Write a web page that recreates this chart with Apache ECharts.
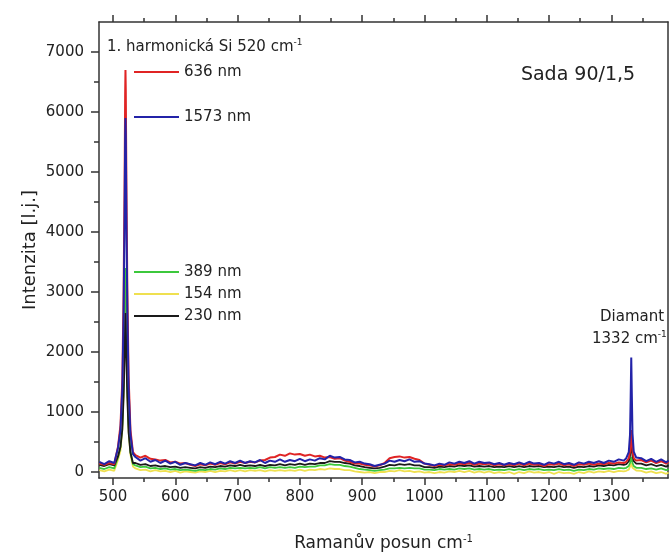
<!DOCTYPE html>
<html><head><meta charset="utf-8">
<script src="https://cdn.jsdelivr.net/npm/echarts@6/dist/echarts.min.js"></script>
<style>html,body{margin:0;padding:0;background:#fff}#c{width:669px;height:557px}</style>
</head><body><div id="c"></div>
<script>
// Raman shift (cm-1) sample positions
const xs = [478,486,494,502,
 508,512,515,517,518.5,519.5,520,520.5,521.5,523,525,528,532,
 536,544,552,560,568,576,584,592,600,608,616,624,632,640,648,656,664,672,680,688,696,
 704,712,720,728,736,744,752,760,768,776,784,792,800,808,816,824,832,840,848,856,864,872,
 880,888,896,904,912,920,928,936,944,952,960,968,976,984,992,1000,1008,1016,1024,1032,1040,
 1048,1056,1064,1072,1080,1088,1096,1104,1112,1120,1128,1136,1144,1152,1160,1168,1176,1184,
 1192,1200,1208,1216,1224,1232,1240,1248,1256,1264,1272,1280,1288,1296,1304,1312,1320,
 1324,1328,1330,1331,1332,1333,1334,1336,1340,
 1348,1356,1364,1372,1380,1388,1392];

const red636 = [140,120,150,130,
 420,780,1550,3000,4700,6300,6700,6350,4800,3050,1600,700,330,
 280,240,270,220,
 210,190,200,160,170,140,150,
 120,100,130,110,140,120,150,130,160,140,
 170,150,170,160,190,200,240,250,
 290,270,310,290,300,270,290,260,270,240,
 250,220,230,190,
 170,140,140,120,110,90,110,150,
 230,250,260,240,250,220,200,140,
 120,100,120,110,130,
 120,140,130,150,120,140,130,140,110,130,
 110,130,110,140,110,140,120,130,100,130,120,140,110,130,100,
 130,120,140,120,140,130,150,140,160,150,
 170,230,340,520,700,540,350,230,190,
 200,160,190,150,180,140,170];

const blue1573 = [170,130,180,150,
 400,700,1400,2650,4150,5550,5900,5600,4200,2700,1400,620,300,
 250,190,230,170,
 200,150,190,140,170,120,150,
 130,110,150,120,160,130,170,140,180,150,
 190,150,180,160,200,150,190,170,
 210,170,200,180,220,180,210,190,230,210,
 270,240,250,210,
 200,160,170,140,130,100,120,140,
 190,170,200,180,210,170,180,140,
 130,110,140,120,160,
 140,170,150,180,140,170,150,160,130,150,
 120,150,130,160,130,170,140,150,120,160,140,170,130,150,120,
 160,140,170,150,180,150,190,170,210,190,
 230,330,620,1200,1910,1250,640,340,240,
 230,180,220,170,210,160,190];

const green389 = [70,50,80,60,
 250,420,800,1500,2350,3150,3400,3200,2400,1500,780,340,130,
 110,80,90,60,
 70,50,60,40,50,30,40,
 30,20,40,30,50,40,60,50,70,60,
 70,60,70,60,80,60,80,70,
 80,70,80,70,90,80,90,90,110,110,
 130,120,120,100,
 90,70,50,40,30,20,30,40,
 60,60,70,60,70,60,60,40,
 40,30,50,40,50,
 40,60,50,60,40,50,40,50,30,40,
 30,50,30,50,30,50,40,50,30,40,30,50,30,40,20,
 40,30,50,40,60,50,60,50,70,60,
 70,100,150,200,250,200,150,100,70,
 70,50,60,40,60,30,50];

const yellow154 = [30,10,40,20,
 200,360,700,1350,2100,2850,3050,2870,2150,1350,690,290,90,
 60,30,40,10,
 30,10,20,0,20,-10,10,
 0,-10,10,0,20,0,20,10,30,10,
 30,10,30,20,30,10,30,20,
 30,20,30,20,40,20,40,30,50,40,
 60,50,50,30,
 30,10,0,-10,0,-20,0,0,
 20,10,30,10,20,0,10,-10,
 0,-20,0,-10,10,
 0,20,0,20,-10,10,-10,10,-20,0,
 -20,0,-30,0,-20,10,-10,0,-20,0,-30,0,-20,-10,-30,
 0,-20,10,-10,10,0,20,0,20,10,
 20,40,70,110,150,110,70,40,25,
 20,-10,10,-20,0,-30,-10];

const black230 = [120,100,130,110,
 260,420,720,1250,1880,2480,2650,2500,1900,1230,660,320,150,
 150,120,130,100,
 110,90,100,80,90,70,80,
 70,60,80,70,90,80,100,90,110,100,
 120,100,110,100,120,100,120,110,
 130,110,130,120,140,120,140,130,150,150,
 180,170,170,150,
 140,110,100,80,70,60,70,90,
 120,110,130,120,130,110,110,80,
 80,70,90,80,100,
 90,110,100,110,90,100,90,100,80,90,
 80,100,80,100,80,100,90,100,80,90,80,100,80,90,70,
 90,80,100,90,110,100,120,110,130,120,
 130,180,270,380,480,380,270,180,140,
 140,110,130,100,120,90,110];

const majorX = [500,600,700,800,900,1000,1100,1200,1300];
const minorX = [550,650,750,850,950,1050,1150,1250,1350];
const majorY = [0,1000,2000,3000,4000,5000,6000,7000];
const minorY = [500,1500,2500,3500,4500,5500,6500];
const xMin = 477.5, xMax = 1391, yMin = -100, yMax = 7500;

const FONT = 'DejaVu Sans';
const TXT = '#222';
const AX = {color:'#333', width:1.5};

function pairs(ys){ return xs.map((x,i)=>[x, ys[i]]); }
function plain(v){ return String(v); }

function mkSeries(name, ys, color, w){
  return {name:name, type:'line', data:pairs(ys), showSymbol:false, symbol:'none',
    lineStyle:{color:color, width:w}, itemStyle:{color:color}, xAxisIndex:0, yAxisIndex:0,
    animation:false, silent:true};
}

function xAx(pos, ticks, len, showLine, labels){
  return {type:'value', min:xMin, max:xMax, position:pos,
    axisLine:{show:showLine, onZero:false, lineStyle:AX},
    axisTick:{show:true, customValues:ticks, length:len, inside:false, lineStyle:AX},
    axisLabel: labels ? {show:true, customValues:ticks, formatter:plain, margin:12, fontSize:15, fontFamily:FONT, color:TXT} : {show:false},
    splitLine:{show:false}};
}
function yAx(pos, ticks, len, showLine, labels){
  return {type:'value', min:yMin, max:yMax, position:pos,
    axisLine:{show:showLine, onZero:false, lineStyle:AX},
    axisTick:{show:ticks.length>0, customValues:ticks, length:len, inside:false, lineStyle:AX},
    axisLabel: labels ? {show:true, customValues:ticks, formatter:plain, margin:15, fontSize:15, fontFamily:FONT, color:TXT} : {show:false},
    splitLine:{show:false}};
}

const xBottom = xAx('bottom', majorX, 7, true, true);
xBottom.name = 'Ramanův posun cm{sup|-1}';
xBottom.nameLocation = 'middle';
xBottom.nameGap = 56;
xBottom.nameTextStyle = {fontSize:17, fontFamily:FONT, color:TXT,
  rich:{sup:{fontSize:10, fontFamily:FONT, color:TXT, padding:[0,0,9,0]}}};

const chart = echarts.init(document.getElementById('c'));
chart.setOption({
  animation:false,
  backgroundColor:'#fff',
  grid:{left:99, right:1, top:22, bottom:74, containLabel:false},
  xAxis:[xBottom, xAx('bottom', minorX, 4, false, false), xAx('top', majorX, 7, true, false), xAx('top', minorX, 4, false, false)],
  yAxis:[yAx('left', majorY, 8, true, true), yAx('left', minorY, 5, false, false), yAx('right', [], 0, true, false)],
  legend:[
    {data:['636 nm','1573 nm'], orient:'vertical', left:134, top:63, itemWidth:45, itemHeight:2, itemGap:27,
     icon:'rect', selectedMode:false, padding:0, textStyle:{fontSize:15, fontFamily:FONT, color:TXT, lineHeight:18}},
    {data:['389 nm','154 nm','230 nm'], orient:'vertical', left:134, top:263, itemWidth:45, itemHeight:2, itemGap:4,
     icon:'rect', selectedMode:false, padding:0, textStyle:{fontSize:15, fontFamily:FONT, color:TXT, lineHeight:18}}
  ],
  graphic:[
    {type:'text', x:107, y:47, style:{text:'1. harmonická Si 520 cm{sup|-1}', fontSize:15, fontFamily:FONT, fill:TXT,
      verticalAlign:'middle', align:'left', rich:{sup:{fontSize:9, fontFamily:FONT, fill:TXT, padding:[0,0,9,0]}}}},
    {type:'text', x:578, y:75, style:{text:'Sada 90/1,5', fontSize:19, fontFamily:FONT, fill:TXT, align:'center', verticalAlign:'middle'}},
    {type:'text', x:600, y:317, style:{text:'Diamant', fontSize:15, fontFamily:FONT, fill:TXT, align:'left', verticalAlign:'middle'}},
    {type:'text', x:592, y:339, style:{text:'1332 cm{sup|-1}', fontSize:15, fontFamily:FONT, fill:TXT,
      verticalAlign:'middle', align:'left', rich:{sup:{fontSize:9, fontFamily:FONT, fill:TXT, padding:[0,0,9,0]}}}},
    {type:'text', x:30, y:250, rotation:Math.PI/2, style:{text:'Intenzita [l.j.]', fontSize:18, fontFamily:FONT, fill:TXT, align:'center', verticalAlign:'middle'}}
  ],
  series:[
    mkSeries('154 nm', yellow154, '#efe050', 1.8),
    mkSeries('389 nm', green389, '#3cc83c', 1.8),
    mkSeries('230 nm', black230, '#1a1a1a', 1.8),
    mkSeries('636 nm', red636, '#e02424', 2),
    mkSeries('1573 nm', blue1573, '#2323a8', 2)
  ]
});
</script>
</body></html>
